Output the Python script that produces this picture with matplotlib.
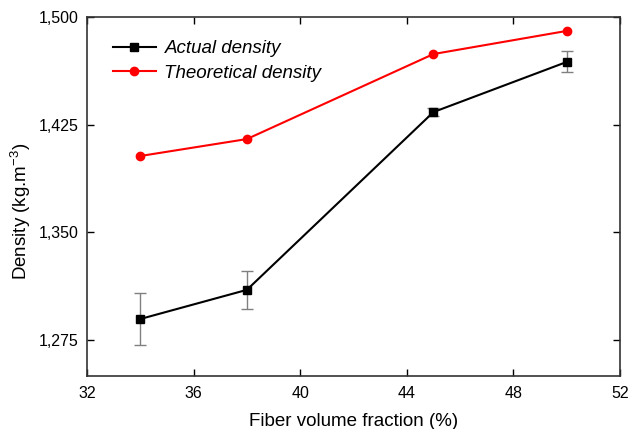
import matplotlib
matplotlib.use("Agg")
import matplotlib.pyplot as plt
from matplotlib.ticker import FuncFormatter, MultipleLocator, FixedLocator

plt.rcParams['font.family'] = ['Liberation Sans', 'DejaVu Sans']
plt.rcParams['mathtext.fontset'] = 'custom'
plt.rcParams['mathtext.rm'] = 'Liberation Sans'

fiber_fraction = [34, 38, 45, 50]
actual_density = [1289.7, 1310.0, 1433.8, 1468.7]
actual_err = [18.0, 13.2, 3.0, 7.3]
theoretical_density = [1403.2, 1415.0, 1474.2, 1490.3]

fig = plt.figure(figsize=(6.28, 4.29), dpi=100)
ax = fig.add_axes([0.1385, 0.1235, 0.8488, 0.8369])

ax.errorbar(fiber_fraction, actual_density, yerr=actual_err, fmt='none',
            ecolor='#808080', elinewidth=1.0, capsize=4, capthick=1.0, zorder=2)
ax.plot(fiber_fraction, actual_density, color='black', marker='s', markersize=6,
        linewidth=1.5, label='Actual density', zorder=3)
ax.plot(fiber_fraction, theoretical_density, color='red', marker='o', markersize=6,
        linewidth=1.5, label='Theoretical density', zorder=3)

ax.set_xlim(32, 52)
ax.set_ylim(1250, 1500)
ax.xaxis.set_major_locator(MultipleLocator(4))
ax.yaxis.set_major_locator(FixedLocator([1275, 1350, 1425, 1500]))
ax.yaxis.set_major_formatter(FuncFormatter(lambda v, p: f"{int(round(v)):,}"))

ax.tick_params(direction='in', top=True, right=True, length=5, width=1,
               labelsize=11.5, colors='black', pad=6)
ax.tick_params(axis='x', labeltop=False, pad=7)
ax.tick_params(axis='y', labelright=False)
for s in ax.spines.values():
    s.set_linewidth(1.2)
    s.set_color('#333333')

ax.set_xlabel('Fiber volume fraction (%)', fontsize=13.5, labelpad=9)
ax.set_ylabel('Density (kg.m$^{\\mathregular{-3}}$)', fontsize=13.5, labelpad=4)
ax.yaxis.label.set_y(0.46)

leg = ax.legend(loc='upper left', frameon=False, prop={'style': 'italic', 'size': 13.5},
                handlelength=2.3, handletextpad=0.45, bbox_to_anchor=(0.017, 0.982),
                labelspacing=0.37)

fig.savefig('out.png', dpi=100)
